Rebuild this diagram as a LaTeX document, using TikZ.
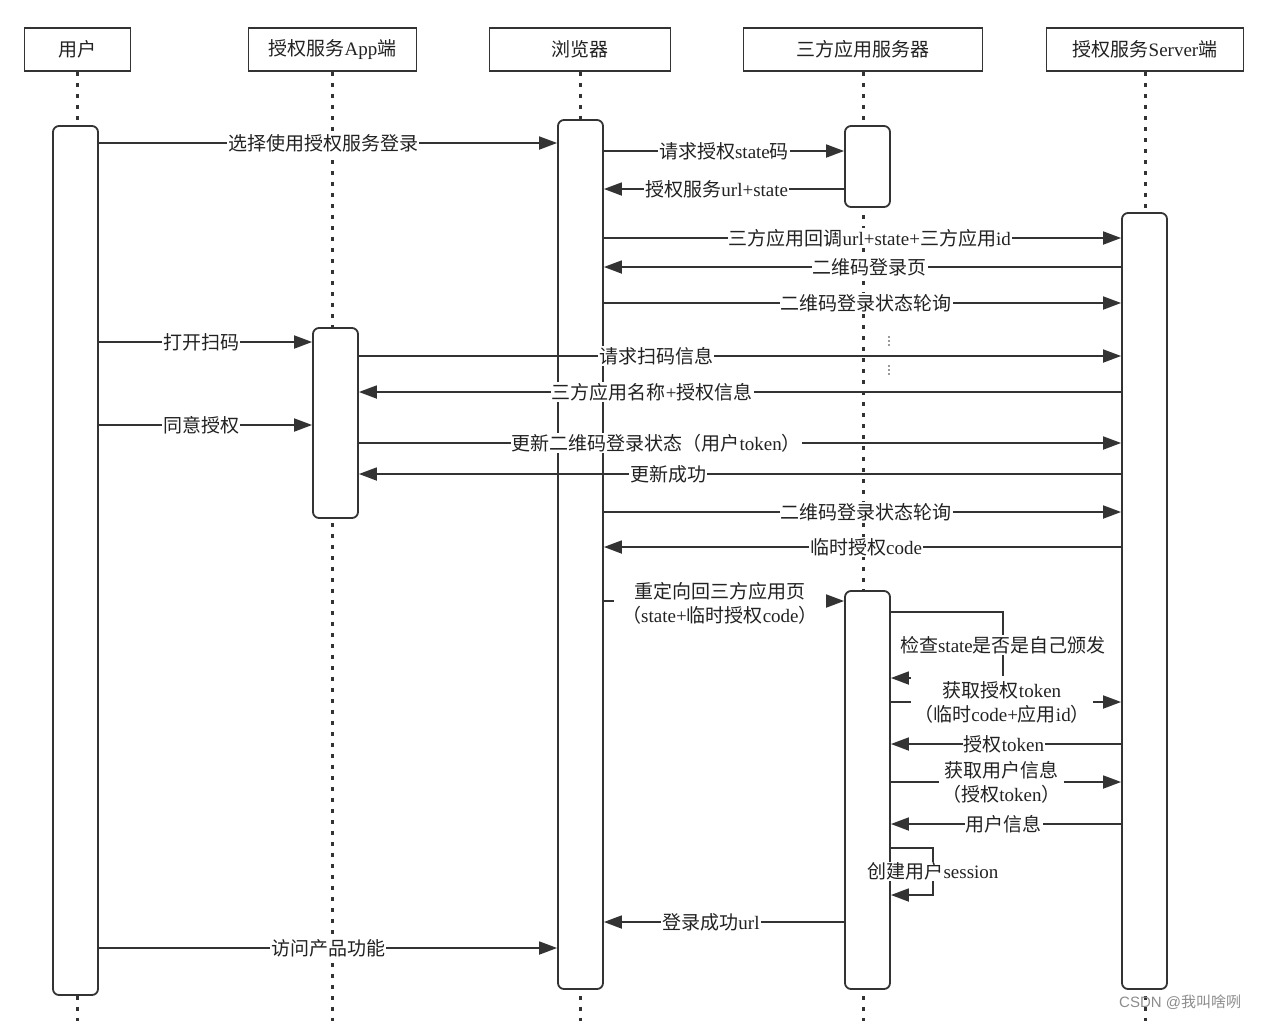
\documentclass[tikz,border=0pt]{standalone}
\usepackage{fontspec}
\setmainfont{Liberation Serif}
\newfontfamily\cjk{Noto Sans CJK SC}
\newfontfamily\wmfont{Liberation Sans}
\usetikzlibrary{arrows.meta}
% switch to the CJK font automatically for ideographs and fullwidth brackets
\XeTeXinterchartokenstate=1
\chardef\cjkcls=7
\count255="4E00
\loop
  \XeTeXcharclass\count255=\cjkcls
  \advance\count255 by 1
\ifnum\count255<"A000 \repeat
\XeTeXcharclass"FF08=\cjkcls
\XeTeXcharclass"FF09=\cjkcls
\XeTeXinterchartoks 0 \cjkcls={\cjk}
\XeTeXinterchartoks 4095 \cjkcls={\cjk}
\XeTeXinterchartoks \cjkcls 0={\rmfamily}
\definecolor{ln}{HTML}{333333}
\definecolor{txt}{HTML}{222222}
\begin{document}
\begin{tikzpicture}[x=1pt,y=-1pt,
  every node/.style={font=\fontsize{19}{24}\selectfont, text=txt},
  hdr/.style={draw=ln, line width=1.8pt, minimum width=#1, minimum height=43pt, inner sep=0pt},
  act/.style={draw=ln, fill=white, line width=1.8pt, rounded corners=6pt, minimum width=45pt, inner sep=0pt},
  life/.style={draw=ln, line width=3pt, dash pattern=on 4pt off 7pt},
  msg/.style={draw=ln, line width=1.8pt, -{Triangle[length=18pt,width=13pt]}},
  lbl/.style={fill=white, inner xsep=1pt, inner ysep=1pt, align=center},
]
\useasboundingbox (0,0) rectangle (1270,1021);
\coordinate (bot) at (0,1021);

% headers
\node[hdr=106] (hU) at (77.5,49.5) {用户};
\node[hdr=168] (hA) at (332.5,49.5) {授权服务App端};
\node[hdr=181] (hB) at (580,49.5) {浏览器};
\node[hdr=239] (hT) at (863,49.5) {三方应用服务器};
\node[hdr=197] (hS) at (1145,49.5) {授权服务Server端};

% lifelines
\foreach \h in {hU,hA,hB,hT,hS}
  \draw[life] (\h.south) -- (\h.south |- bot);

% activations
\node[act, minimum height=869pt] (uA) at (75.5,560.5) {};
\node[act, minimum height=190pt] (aA) at (335.5,423) {};
\node[act, minimum height=869pt] (bA) at (580.5,554.5) {};
\node[act, minimum height=81pt] (tA1) at (867.5,166.5) {};
\node[act, minimum height=398pt] (tA2) at (867.5,790) {};
\node[act, minimum height=776pt] (sA) at (1144.5,601) {};

% message levels
\coordinate (y1) at (0,143);
\coordinate (y2) at (0,151);
\coordinate (y3) at (0,189);
\coordinate (y4) at (0,238);
\coordinate (y5) at (0,267);
\coordinate (y6) at (0,303);
\coordinate (y7) at (0,342);
\coordinate (y8) at (0,356);
\coordinate (y9) at (0,392);
\coordinate (y10) at (0,425);
\coordinate (y11) at (0,443);
\coordinate (y12) at (0,474);
\coordinate (y13) at (0,512);
\coordinate (y14) at (0,547);
\coordinate (y15) at (0,601);
\coordinate (y16) at (0,612);
\coordinate (L1) at (1003,678);
\coordinate (y17) at (0,702);
\coordinate (y18) at (0,744);
\coordinate (y19) at (0,782);
\coordinate (y20) at (0,824);
\coordinate (y21) at (0,848);
\coordinate (L2) at (933,895);
\coordinate (y22) at (0,922);
\coordinate (y23) at (0,948);

% messages
\draw[msg] (uA.east |- y1) -- node[lbl,pos=.49]{选择使用授权服务登录} (bA.west |- y1);
\draw[msg] (bA.east |- y2) -- node[lbl,pos=.5]{请求授权state码} (tA1.west |- y2);
\draw[msg] (tA1.west |- y3) -- node[lbl,pos=.53]{授权服务url+state} (bA.east |- y3);
\draw[msg] (bA.east |- y4) -- node[lbl,pos=.514]{三方应用回调url+state+三方应用id} (sA.west |- y4);
\draw[msg] (sA.west |- y5) -- node[lbl,pos=.486]{二维码登录页} (bA.east |- y5);
\draw[msg] (bA.east |- y6) -- node[lbl,pos=.507]{二维码登录状态轮询} (sA.west |- y6);
\draw[msg] (uA.east |- y7) -- node[lbl,pos=.48]{打开扫码} (aA.west |- y7);
\draw[msg] (aA.east |- y8) -- node[lbl,pos=.39]{请求扫码信息} (sA.west |- y8);
\draw[msg] (sA.west |- y9) -- node[lbl,pos=.615]{三方应用名称+授权信息} (aA.east |- y9);
\draw[msg] (uA.east |- y10) -- node[lbl,pos=.48]{同意授权} (aA.west |- y10);
\draw[msg] (aA.east |- y11) -- node[lbl,pos=.39]{更新二维码登录状态（用户token）} (sA.west |- y11);
\draw[msg] (sA.west |- y12) -- node[lbl,pos=.594]{更新成功} (aA.east |- y12);
\draw[msg] (bA.east |- y13) -- node[lbl,pos=.507]{二维码登录状态轮询} (sA.west |- y13);
\draw[msg] (sA.west |- y14) -- node[lbl,pos=.493]{临时授权code} (bA.east |- y14);
\draw[msg] (bA.east |- y15) -- node[lbl,pos=.483,yshift=-2pt,inner xsep=8pt]{重定向回三方应用页\\（state+临时授权code）} (tA2.west |- y15);
\draw[msg] (tA2.east |- y16) -| node[lbl,pos=.75]{检查state是否是自己颁发} (L1) -- (tA2.east |- L1);
\draw[msg] (tA2.east |- y17) -- node[lbl,pos=.483,inner ysep=5pt,inner xsep=3pt]{获取授权token\\（临时code+应用id）} (sA.west |- y17);
\draw[msg] (sA.west |- y18) -- node[lbl,pos=.509]{授权token} (tA2.east |- y18);
\draw[msg] (tA2.east |- y19) -- node[lbl,pos=.48,inner xsep=3pt]{获取用户信息\\（授权token）} (sA.west |- y19);
\draw[msg] (sA.west |- y20) -- node[lbl,pos=.509]{用户信息} (tA2.east |- y20);
\draw[msg] (tA2.east |- y21) -| node[lbl,pos=.75]{创建用户session} (L2) -- (tA2.east |- L2);
\draw[msg] (tA2.west |- y22) -- node[lbl,pos=.554]{登录成功url} (bA.east |- y22);
\draw[msg] (uA.east |- y23) -- node[lbl,pos=.5]{访问产品功能} (bA.west |- y23);

% small vertical ellipses
\foreach \yy in {341,370} {
  \foreach \d in {-4,0,4}
    \fill[ln] (889,\yy+\d) circle (0.9pt);
}

% watermark
\node[font=\wmfont\fontsize{15}{18}\selectfont, text=black!45, anchor=west, inner sep=0pt] (wm) at (1119,1002) {CSDN @我叫啥咧};
\end{tikzpicture}
\end{document}
